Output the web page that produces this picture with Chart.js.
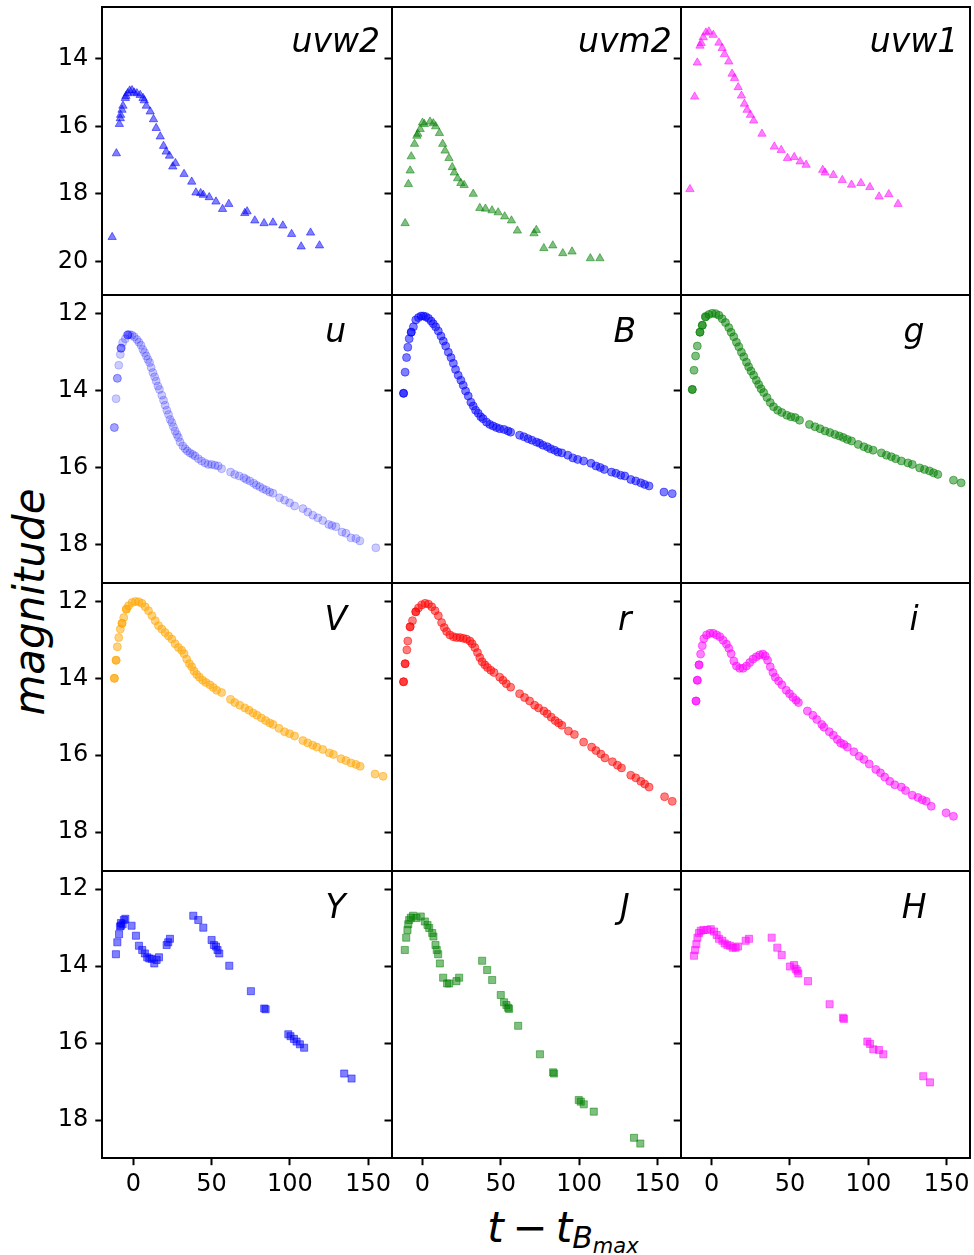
<!DOCTYPE html>
<html>
<head>
<meta charset="utf-8">
<script src="https://cdn.jsdelivr.net/npm/chart.js@4.4.0/dist/chart.umd.min.js"></script>
<style>
  body { margin: 0; background: #fff; width: 974px; height: 1255px; position: relative; overflow: hidden; }
  canvas { position: absolute; }
  #ylab { position: absolute; left: 30px; top: 602px; transform: translate(-50%, -50%) rotate(-90deg);
          font: italic 42px "DejaVu Sans"; line-height: 1; white-space: nowrap; color: #000; }
  #xlab { position: absolute; left: 563px; top: 1207px; transform: translateX(-50%);
          font: italic 42px "DejaVu Sans"; line-height: 1; white-space: nowrap; color: #000; }
</style>
</head>
<body>
<div id="ylab">magnitude</div>
<div id="xlab">t<span style="font-style:normal">&#8201;&#8722;&#8201;</span>t<span style="font-size:30px;position:relative;top:6px">B<span style="font-size:21px;position:relative;top:5px">max</span></span></div>
<script>
// [t - t_Bmax, magnitude]
const uvw2 = [[-13.5,19.28],[-10.8,16.80],[-8.9,15.93],[-8.3,15.76],[-8.1,15.66],[-7.2,15.51],[-6.6,15.39],[-5.1,15.16],[-4.7,15.10],[-3.6,15.02],[-2.3,14.94],[-0.8,14.93],[0.6,15.00],[2.3,15.02],[4.4,15.07],[6.2,15.16],[7.0,15.23],[8.3,15.39],[10.8,15.56],[12.9,15.79],[14.6,16.05],[17.2,16.30],[19.3,16.58],[21.0,16.75],[23.1,16.87],[25.2,17.19],[26.9,17.09],[32.4,17.41],[37.3,17.64],[40.0,17.96],[43.0,17.98],[44.7,18.03],[48.5,18.10],[52.8,18.23],[57.0,18.45],[61.0,18.30],[71.2,18.57],[72.7,18.52],[77.6,18.79],[83.5,18.87],[89.2,18.85],[95.5,18.94],[101.1,19.19],[107.2,19.56],[113.2,19.15],[118.9,19.53]];
const uvm2 = [[-11.1,18.87],[-9.0,17.71],[-7.9,17.31],[-7.2,16.89],[-5.1,16.52],[-3.6,16.28],[-3.0,16.22],[-1.5,16.08],[0.0,15.89],[1.2,15.93],[4.8,15.86],[6.9,15.91],[8.4,16.00],[10.8,16.20],[12.9,16.52],[14.4,16.72],[16.9,16.94],[19.0,17.21],[20.3,17.37],[22.4,17.54],[24.5,17.68],[26.6,17.74],[32.4,18.00],[36.6,18.42],[40.2,18.44],[44.4,18.49],[48.3,18.55],[52.5,18.67],[56.8,18.79],[60.6,19.09],[71.2,19.17],[72.7,19.07],[77.5,19.61],[83.2,19.53],[89.6,19.76],[95.5,19.71],[107.2,19.91],[113.3,19.91]];
const uvw1 = [[-13.9,17.86],[-10.9,15.12],[-9.2,14.11],[-7.5,13.61],[-6.7,13.53],[-5.4,13.36],[-3.7,13.22],[-1.8,13.19],[1.0,13.29],[4.6,13.52],[6.7,13.68],[8.2,13.86],[10.9,14.08],[13.0,14.44],[14.6,14.57],[16.9,14.84],[19.0,15.09],[20.9,15.33],[22.6,15.51],[24.7,15.66],[26.8,15.83],[32.1,16.22],[40.0,16.60],[44.4,16.70],[48.4,16.94],[52.7,16.91],[56.5,17.04],[60.3,17.14],[70.9,17.29],[72.4,17.37],[77.7,17.44],[83.4,17.59],[89.3,17.73],[95.3,17.68],[101.0,17.80],[106.9,18.08],[113.1,18.01],[119.0,18.30]];
const uBand = [[-12.1,14.96],[-12.1,14.96],[-11.0,14.21],[-10.2,13.68],[-10.2,13.68],[-9.3,13.34],[-8.3,13.06],[-7.8,12.90],[-7.8,12.90],[-7.8,12.89],[-6.8,12.75],[-5.1,12.65],[-3.6,12.55],[-3.6,12.55],[-3.4,12.55],[-2.3,12.54],[-0.8,12.56],[0.6,12.60],[2.3,12.67],[3.6,12.74],[4.9,12.82],[6.1,12.93],[7.2,13.01],[8.3,13.10],[9.3,13.19],[10.4,13.27],[11.4,13.40],[12.5,13.53],[13.6,13.64],[14.6,13.75],[15.7,13.88],[16.7,13.97],[18.2,14.12],[19.3,14.25],[20.3,14.38],[21.4,14.51],[22.5,14.62],[23.5,14.75],[24.6,14.83],[25.6,14.94],[26.7,15.05],[27.8,15.14],[28.8,15.22],[29.9,15.34],[31.6,15.44],[33.1,15.51],[34.5,15.57],[36.2,15.62],[37.9,15.66],[39.4,15.70],[41.5,15.77],[43.6,15.83],[45.8,15.88],[47.9,15.92],[50.0,15.92],[52.1,15.94],[54.2,15.96],[56.4,16.03],[62.1,16.12],[64.8,16.18],[67.6,16.22],[70.6,16.27],[72.2,16.31],[74.4,16.35],[76.9,16.41],[78.6,16.46],[80.7,16.50],[82.8,16.55],[85.0,16.59],[87.1,16.64],[89.2,16.67],[93.4,16.79],[96.6,16.85],[99.8,16.92],[103.0,17.00],[108.3,17.07],[111.4,17.16],[114.6,17.24],[117.8,17.31],[121.0,17.38],[124.8,17.48],[126.9,17.51],[129.4,17.54],[133.3,17.68],[135.8,17.71],[139.0,17.83],[142.2,17.85],[144.7,17.91],[154.9,18.09]];
const bBand = [[-12.1,14.07],[-12.1,14.07],[-11.1,13.52],[-10.2,13.14],[-9.4,12.87],[-8.5,12.65],[-7.2,12.48],[-7.2,12.48],[-5.8,12.34],[-4.3,12.16],[-2.6,12.10],[-0.9,12.06],[0.6,12.06],[2.1,12.08],[3.8,12.12],[5.5,12.19],[6.9,12.26],[8.4,12.34],[10.1,12.45],[11.8,12.58],[13.3,12.71],[14.8,12.84],[16.5,13.00],[18.2,13.14],[19.7,13.29],[21.1,13.45],[22.8,13.60],[24.5,13.73],[26.0,13.86],[27.5,14.01],[29.2,14.14],[30.9,14.30],[32.4,14.40],[33.9,14.51],[35.6,14.59],[37.2,14.68],[38.7,14.73],[40.9,14.82],[43.0,14.88],[45.1,14.92],[47.2,14.96],[49.3,14.99],[52.1,15.01],[54.6,15.05],[56.3,15.08],[62.0,15.16],[64.8,15.20],[67.4,15.25],[69.9,15.29],[72.7,15.34],[74.8,15.37],[76.9,15.42],[79.7,15.46],[81.8,15.51],[84.4,15.55],[86.5,15.60],[89.0,15.62],[92.8,15.68],[96.0,15.75],[99.1,15.79],[102.9,15.83],[107.6,15.89],[110.8,15.96],[113.5,16.00],[116.1,16.05],[120.7,16.12],[123.5,16.15],[126.6,16.20],[129.2,16.22],[133.0,16.31],[136.2,16.35],[139.4,16.40],[141.9,16.44],[144.7,16.48],[154.2,16.64],[159.5,16.68]];
const gBand = [[-12.4,13.97],[-12.4,13.97],[-11.3,13.47],[-10.3,13.10],[-9.2,12.84],[-7.5,12.48],[-7.5,12.48],[-6.0,12.30],[-6.0,12.30],[-3.9,12.08],[-3.9,12.08],[-1.8,12.02],[0.3,11.99],[2.5,12.00],[4.6,12.04],[6.7,12.13],[8.8,12.23],[10.9,12.36],[12.4,12.48],[14.1,12.60],[15.8,12.74],[17.3,12.86],[19.0,13.00],[20.5,13.12],[22.2,13.26],[23.6,13.38],[25.1,13.49],[26.8,13.60],[28.5,13.73],[30.0,13.84],[31.5,13.95],[33.2,14.05],[35.3,14.18],[37.4,14.31],[39.5,14.42],[42.1,14.51],[44.8,14.57],[48.0,14.64],[50.6,14.68],[53.3,14.70],[56.1,14.77],[62.4,14.88],[66.0,14.94],[69.2,14.99],[72.4,15.05],[75.5,15.09],[78.7,15.14],[81.5,15.18],[84.0,15.22],[86.6,15.27],[89.3,15.31],[93.6,15.40],[97.2,15.46],[99.9,15.51],[103.1,15.55],[108.4,15.62],[111.6,15.68],[114.7,15.72],[117.5,15.77],[121.1,15.83],[125.3,15.88],[128.1,15.92],[132.8,16.01],[135.9,16.05],[139.1,16.09],[141.7,16.14],[144.4,16.18],[154.4,16.33],[159.3,16.40]];
const vBand = [[-12.1,14.00],[-12.1,14.00],[-11.0,13.53],[-11.0,13.53],[-10.2,13.18],[-9.3,12.94],[-8.3,12.72],[-7.2,12.57],[-7.2,12.57],[-6.1,12.42],[-4.4,12.20],[-4.4,12.20],[-3.0,12.11],[-0.8,12.03],[1.3,12.00],[3.4,12.01],[5.5,12.05],[7.6,12.14],[9.7,12.24],[11.9,12.37],[14.0,12.50],[16.1,12.63],[18.2,12.72],[20.3,12.81],[22.5,12.90],[24.6,12.98],[26.7,13.10],[28.8,13.20],[30.9,13.27],[32.4,13.36],[34.1,13.50],[35.8,13.62],[37.3,13.70],[38.8,13.81],[40.5,13.90],[42.2,13.97],[44.3,14.05],[46.4,14.11],[48.9,14.17],[51.1,14.24],[53.2,14.31],[56.4,14.37],[62.1,14.55],[64.8,14.63],[68.0,14.70],[71.2,14.77],[73.9,14.83],[76.5,14.90],[79.0,14.96],[81.8,15.03],[84.5,15.10],[87.1,15.16],[89.2,15.20],[93.0,15.30],[96.6,15.39],[99.8,15.44],[103.0,15.50],[108.3,15.62],[111.4,15.68],[114.6,15.74],[117.2,15.79],[121.0,15.85],[125.2,15.94],[127.8,15.98],[132.6,16.09],[135.8,16.14],[139.0,16.20],[142.2,16.24],[144.9,16.29],[154.4,16.49],[159.5,16.55]];
const rBand = [[-12.1,14.09],[-12.1,14.09],[-11.1,13.62],[-11.1,13.62],[-10.0,13.26],[-9.4,13.03],[-7.9,12.66],[-7.9,12.66],[-6.4,12.50],[-4.3,12.27],[-4.3,12.27],[-2.6,12.17],[-0.5,12.09],[1.7,12.05],[3.8,12.07],[5.9,12.14],[8.0,12.24],[10.1,12.37],[12.2,12.55],[13.9,12.68],[15.4,12.78],[17.5,12.87],[19.7,12.92],[21.8,12.94],[23.9,12.94],[26.0,12.96],[28.1,12.98],[30.3,13.03],[31.7,13.10],[33.4,13.20],[35.1,13.33],[36.6,13.46],[38.1,13.57],[39.8,13.65],[41.5,13.72],[43.6,13.79],[45.7,13.85],[49.3,13.97],[51.4,14.05],[53.5,14.14],[56.3,14.23],[62.0,14.40],[65.2,14.50],[68.4,14.59],[71.6,14.70],[74.1,14.77],[77.5,14.85],[79.6,14.92],[82.2,15.01],[84.7,15.10],[86.9,15.16],[89.0,15.22],[93.2,15.37],[97.0,15.46],[102.9,15.66],[108.0,15.79],[110.8,15.88],[113.9,15.97],[116.5,16.07],[121.3,16.17],[124.5,16.26],[127.1,16.33],[133.0,16.52],[136.2,16.59],[139.4,16.68],[141.9,16.75],[144.7,16.83],[154.6,17.08],[159.5,17.20]];
const iBand = [[-10.0,14.59],[-10.0,14.59],[-9.2,14.05],[-9.2,14.05],[-8.1,13.65],[-8.1,13.65],[-7.1,13.37],[-6.0,13.15],[-5.0,12.97],[-3.3,12.87],[-1.1,12.83],[1.0,12.83],[3.1,12.87],[5.2,12.92],[7.3,13.01],[9.4,13.11],[10.9,13.22],[12.4,13.36],[14.1,13.55],[15.8,13.68],[17.9,13.74],[20.0,13.74],[22.2,13.68],[24.3,13.59],[26.4,13.50],[28.5,13.44],[30.6,13.39],[32.7,13.37],[34.2,13.42],[35.7,13.53],[37.4,13.70],[39.1,13.85],[40.6,13.97],[42.7,14.07],[44.8,14.17],[47.6,14.31],[49.7,14.40],[51.8,14.49],[53.9,14.57],[55.4,14.63],[61.1,14.85],[64.6,14.96],[67.1,15.07],[70.3,15.20],[71.7,15.27],[75.1,15.39],[77.7,15.48],[80.2,15.59],[82.3,15.68],[84.5,15.72],[86.6,15.79],[90.8,15.91],[94.2,16.03],[97.2,16.11],[100.6,16.23],[104.8,16.37],[107.8,16.46],[110.5,16.57],[113.7,16.68],[116.9,16.77],[121.1,16.83],[123.8,16.92],[128.1,17.04],[131.7,17.10],[134.5,17.16],[137.0,17.20],[140.2,17.33],[149.7,17.50],[154.4,17.59]];
const yBand = [[-11.1,13.69],[-10.2,13.38],[-9.1,13.17],[-8.5,12.97],[-7.9,12.88],[-7.9,12.95],[-6.8,12.91],[-6.0,12.80],[-5.1,12.77],[-1.1,12.95],[1.7,13.21],[3.6,13.47],[5.7,13.58],[7.4,13.67],[8.9,13.77],[10.2,13.80],[11.7,13.81],[13.4,13.93],[14.9,13.84],[16.4,13.77],[21.3,13.45],[22.3,13.38],[23.4,13.29],[38.3,12.69],[41.5,12.80],[44.7,13.00],[50.0,13.32],[51.5,13.45],[52.8,13.49],[53.8,13.58],[54.9,13.67],[61.3,13.99],[75.1,14.65],[83.6,15.10],[84.5,15.12],[99.0,15.77],[100.4,15.82],[102.6,15.89],[104.3,15.96],[106.4,16.03],[109.1,16.12],[134.7,16.79],[139.4,16.92]];
const jBand = [[-11.3,13.58],[-10.4,13.26],[-9.6,13.06],[-9.1,12.91],[-8.5,12.80],[-7.4,12.74],[-6.0,12.69],[-3.8,12.75],[-1.1,12.71],[1.5,12.84],[3.2,12.93],[4.3,13.01],[6.2,13.14],[7.0,13.23],[8.3,13.45],[9.1,13.58],[10.0,13.69],[11.1,13.93],[13.2,14.30],[15.7,14.45],[17.0,14.45],[21.7,14.39],[23.4,14.30],[38.1,13.86],[41.3,14.10],[44.5,14.36],[50.0,14.75],[52.1,14.94],[53.6,15.01],[54.7,15.08],[55.3,15.11],[61.1,15.55],[75.0,16.29],[83.4,16.76],[84.0,16.79],[99.8,17.48],[101.1,17.52],[103.0,17.59],[109.4,17.78],[135.1,18.46],[139.1,18.61]];
const hBand = [[-11.3,13.73],[-10.6,13.58],[-9.8,13.43],[-9.1,13.26],[-8.1,13.14],[-7.0,13.08],[-5.3,13.06],[-2.8,13.06],[-0.6,13.04],[1.5,13.10],[3.2,13.19],[4.7,13.29],[6.8,13.34],[8.3,13.41],[10.0,13.45],[11.7,13.47],[13.4,13.52],[15.3,13.52],[16.8,13.49],[21.7,13.34],[23.8,13.29],[38.3,13.26],[41.9,13.52],[44.7,13.71],[50.0,14.01],[52.6,13.97],[53.6,14.07],[54.7,14.12],[55.3,14.19],[61.5,14.39],[75.3,14.99],[83.8,15.34],[84.5,15.37],[99.4,15.96],[101.1,16.02],[103.2,16.16],[106.8,16.18],[109.6,16.29],[135.1,16.86],[139.4,17.02]];

const bandNames = ['uvw2', 'uvm2', 'uvw1', 'u', 'B', 'g', 'V', 'r', 'i', 'Y', 'J', 'H'];
const bandData = [uvw2, uvm2, uvw1, uBand, bBand, gBand, vBand, rBand, iBand, yBand, jBand, hBand];
const bandColors = ['0,0,255', '0,128,0', '255,0,255', '0,0,255', '0,0,255', '0,128,0', '255,165,0', '255,0,0', '255,0,255', '0,0,255', '0,128,0', '255,0,255'];
const bandAlpha = [0.5, 0.5, 0.5, 0.2, 0.5, 0.5, 0.5, 0.5, 0.5, 0.5, 0.5, 0.5];
const rowMarkers = ['triangle', 'circle', 'circle', 'rect'];

const xTicks = [0, 50, 100, 150];
const rowYTicks = [[14, 16, 18, 20], [12, 14, 16, 18], [12, 14, 16, 18], [12, 14, 16, 18]];
const rowYLimits = [[12.47, 20.99], [11.52, 19.0], [11.52, 19.0], [11.52, 18.99]];
const tRange = [-19.8, 164.9];

window.addEventListener('load', function() {
    Chart.defaults.font.family = '"DejaVu Sans"';

    const colLeft = [102.3, 391.5, 680.7], colWidth = 289.2;
    const rowTop = [7.3, 295.3, 583.0, 870.7], rowHeight = 287.5;
    const markerRadius = {triangle: 4.8, circle: 4.0, rect: 5.0};
    const yAxisWidth = 60, xAxisHeight = 45;

    const bandLabel = {
        id: 'bandLabel',
        afterDraw(chart, args, opts) {
            const a = chart.chartArea;
            const ctx = chart.ctx;
            ctx.save();
            ctx.font = 'italic 33px "DejaVu Sans"';
            ctx.fillStyle = '#000';
            ctx.textAlign = 'center';
            ctx.textBaseline = 'alphabetic';
            ctx.fillText(opts.text, a.left + 0.807 * (a.right - a.left), a.top + opts.baseline);
            ctx.restore();
        }
    };

    function noPad(s) {
        s.paddingLeft = 0; s.paddingRight = 0; s.paddingTop = 0; s.paddingBottom = 0;
    }

    bandNames.forEach(function(name, k) {
        const row = Math.floor(k / 3), col = k % 3;
        const L = colLeft[col], T = rowTop[row];
        const cx = Math.floor(L) - 100, cy = Math.floor(T) - 10;
        const cw = Math.ceil(L + colWidth) + 12 - cx;
        const ch = Math.ceil(T + rowHeight) + 50 - cy;
        const canvas = document.createElement('canvas');
        canvas.width = cw;
        canvas.height = ch;
        canvas.style.left = cx + 'px';
        canvas.style.top = cy + 'px';
        document.body.appendChild(canvas);

        const bottomRow = row === 3, leftCol = col === 0;
        const yw = leftCol ? yAxisWidth : 0;
        const xh = bottomRow ? xAxisHeight : 0;
        const rgb = bandColors[k], alpha = bandAlpha[k];
        const marker = rowMarkers[row];
        const tickFont = {family: '"DejaVu Sans"', size: 24};
        const border = {display: true, color: '#000', width: 2};

        new Chart(canvas, {
            type: 'scatter',
            data: {
                datasets: [{
                    data: bandData[k].map(d => ({x: d[0], y: d[1]})),
                    pointStyle: marker,
                    pointRadius: markerRadius[marker],
                    pointHoverRadius: markerRadius[marker],
                    backgroundColor: 'rgba(' + rgb + ',' + alpha + ')',
                    borderColor: 'rgba(' + rgb + ',' + alpha + ')',
                    borderWidth: 1
                }]
            },
            options: {
                responsive: false,
                animation: false,
                events: [],
                layout: {
                    autoPadding: false,
                    padding: {
                        left: L - cx - yw,
                        top: T - cy,
                        right: cx + cw - (L + colWidth),
                        bottom: cy + ch - (T + rowHeight) - xh
                    }
                },
                plugins: {
                    legend: {display: false},
                    tooltip: {enabled: false},
                    bandLabel: {text: name, baseline: row === 0 ? 44.5 : 47}
                },
                scales: {
                    x: {
                        type: 'linear', position: 'bottom', min: tRange[0], max: tRange[1],
                        afterFit: s => { s.height = xh; noPad(s); },
                        afterBuildTicks: s => { s.ticks = xTicks.map(v => ({value: v})); },
                        grid: {drawOnChartArea: false, drawTicks: bottomRow, tickLength: 7, tickWidth: 2, tickColor: '#000'},
                        border: border,
                        ticks: {display: bottomRow, color: '#000', font: tickFont, padding: 5, maxRotation: 0, autoSkip: false}
                    },
                    y: {
                        type: 'linear', position: 'left', reverse: true,
                        min: rowYLimits[row][0], max: rowYLimits[row][1],
                        afterFit: s => { s.width = yw; noPad(s); },
                        afterBuildTicks: s => { s.ticks = rowYTicks[row].map(v => ({value: v})); },
                        grid: {drawOnChartArea: false, drawTicks: true, tickLength: 7, tickWidth: 2, tickColor: '#000'},
                        border: border,
                        ticks: {display: leftCol, color: '#000', font: tickFont, padding: 7, autoSkip: false}
                    },
                    x2: {
                        type: 'linear', position: 'top', min: tRange[0], max: tRange[1],
                        afterFit: s => { s.height = 0; noPad(s); },
                        grid: {display: false}, border: border, ticks: {display: false}
                    },
                    y2: {
                        type: 'linear', position: 'right', min: rowYLimits[row][0], max: rowYLimits[row][1],
                        afterFit: s => { s.width = 0; noPad(s); },
                        grid: {display: false}, border: border, ticks: {display: false}
                    }
                }
            },
            plugins: [bandLabel]
        });
    });
});
</script>
</body>
</html>
